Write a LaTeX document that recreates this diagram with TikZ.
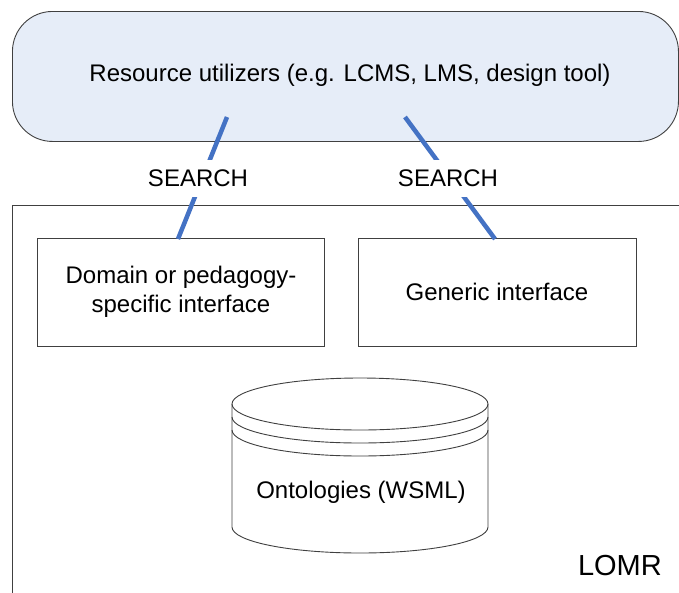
\documentclass[tikz,border=0pt]{standalone}
\usepackage{fontspec}
\setmainfont{Liberation Sans}
\begin{document}
\begin{tikzpicture}[x=1pt,y=-1pt,
  frame/.style={draw=black!75,line width=0.9pt},
  lbl/.style={font=\fontsize{24}{28.5}\selectfont,inner sep=0pt,align=center},
  searchlbl/.style={lbl,fill=white,inner xsep=3pt,inner ysep=10pt},
  link/.style={draw={rgb,255:red,68;green,114;blue,196},line width=4.5pt}]
\useasboundingbox (0,0) rectangle (679,592);
\clip (0,0) rectangle (679,592);
% top rounded box
\node[frame,fill={rgb,255:red,230;green,237;blue,248},rounded corners=40pt,
  minimum width=666pt,minimum height=130pt,anchor=north west] (util) at (12,11) {};
\node[lbl] (utiltext) at (350,75) {Resource utilizers (e.g. LCMS, LMS, design tool)};
% LOMR frame
\node[frame,minimum width=700pt,minimum height=420pt,anchor=north west,inner sep=0pt] (lomr) at (12,205) {};
\node[lbl,font=\fontsize{29}{33}\selectfont,anchor=base east] (lomrtext) at (662,575) {LOMR};
% interfaces
\node[frame,minimum width=287pt,minimum height=108pt,anchor=north west] (dom) at (37,238) {};
\node[lbl] (domtext) at (181,292) {Domain or pedagogy-\\specific interface};
\node[frame,minimum width=278pt,minimum height=108pt,anchor=north west] (gen) at (358,238) {};
\node[lbl] (gentext) at (497,292) {Generic interface};
% cylinder
\fill[white] (232,404) -- (232,527) arc[start angle=180,end angle=0,x radius=128,y radius=26] -- (488,404) -- cycle;
\draw[frame] (232,404) -- (232,527) arc[start angle=180,end angle=0,x radius=128,y radius=26] -- (488,404);
\draw[frame] (360,404) ellipse[x radius=128,y radius=26];
\draw[frame] (232,417) arc[start angle=180,end angle=0,x radius=128,y radius=26];
\draw[frame] (232,430) arc[start angle=180,end angle=0,x radius=128,y radius=26];
\node[lbl] (onto) at (361,492) {Ontologies (WSML)};
% connectors
\coordinate (a1) at (227,117);
\coordinate (b1) at (178,239);
\coordinate (a2) at (405,117);
\coordinate (b2) at (495,239);
\draw[link] (a1) -- (b1);
\draw[link] (a2) -- (b2);
\node[searchlbl] (s1) at (198,178) {SEARCH};
\node[searchlbl] (s2) at (448,178) {SEARCH};
\end{tikzpicture}
\end{document}
